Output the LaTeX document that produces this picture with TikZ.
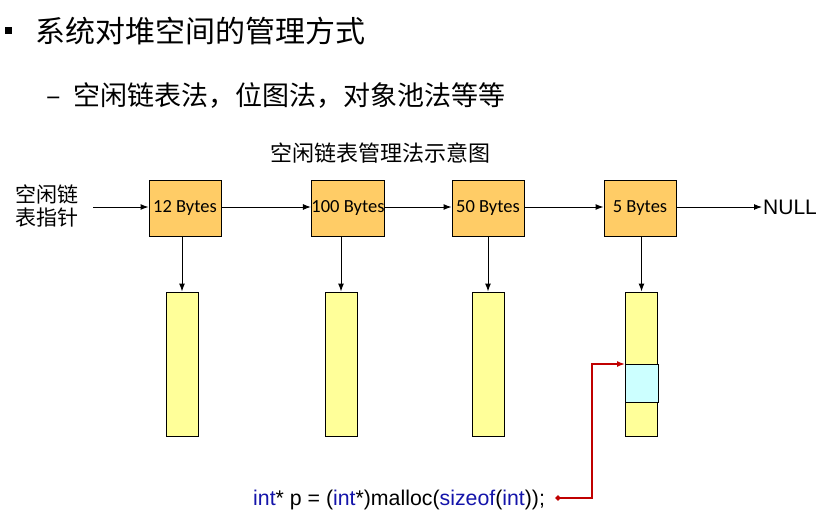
\documentclass[tikz,border=0pt]{standalone}
\usepackage{fontspec}
\setmainfont{Liberation Sans}
\newfontfamily\cjk{Noto Sans CJK SC}
\newfontfamily\calfont{Carlito}
\usetikzlibrary{arrows.meta,shapes.geometric}
\definecolor{boxgold}{RGB}{255,204,102}
\definecolor{colyellow}{RGB}{255,255,153}
\definecolor{cellcyan}{RGB}{204,255,255}
\definecolor{darkred}{RGB}{192,0,0}
\definecolor{codeblue}{RGB}{20,20,170}
\begin{document}
\begin{tikzpicture}[x=1pt,y=-1pt,
  blockbox/.style={draw=black,line width=1pt,fill=boxgold,minimum width=72pt,minimum height=56pt,inner sep=0pt,font=\calfont\fontsize{18.5}{22}\selectfont},
  column/.style={draw=black,line width=1pt,fill=colyellow,minimum width=32pt,minimum height=144pt,inner sep=0pt},
  arr/.style={line width=1pt,-{Latex[length=8pt,width=6pt]}},
  redarr/.style={line width=1.5pt,draw=darkred,-{Latex[length=8pt,width=6pt]}}]
\useasboundingbox (0,0) rectangle (832,511);
\fill[white] (0,0) rectangle (832,511);
% headings
\node[fill=black,minimum size=7pt,inner sep=0pt] (bullet) at (8.5,30.5) {};
\node[anchor=west,inner sep=0pt,font=\cjk\fontsize{30}{36}\selectfont] (h1) at (35,31) {系统对堆空间的管理方式};
\node[anchor=west,inner sep=0pt,font=\cjk\fontsize{27}{32}\selectfont] (dash) at (46,101) {–};
\node[anchor=west,inner sep=0pt,font=\cjk\fontsize{27}{32}\selectfont] (h2) at (73,96) {空闲链表法，位图法，对象池法等等};
\node[inner sep=0pt,font=\cjk\fontsize{22}{26}\selectfont] (title) at (380,153) {空闲链表管理法示意图};
% left label
\node[align=center,inner sep=0pt,font=\cjk\fontsize{21}{23}\selectfont] (lbl) at (46.5,206) {空闲链\\表指针};
\coordinate (start) at (93,207);
% blocks
\node[blockbox] (b1) at (185,208) {12 Bytes};
\node[blockbox] (b2) at (348,208) {100 Bytes};
\node[blockbox] (b3) at (488,208) {50 Bytes};
\node[blockbox] (b4) at (640,208) {5 Bytes};
\node[anchor=west,inner sep=1pt,font=\fontsize{21}{24}\selectfont] (null) at (762,207) {NULL};
% columns
\node[column] (c1) at (182,364) {};
\node[column] (c2) at (341,364) {};
\node[column] (c3) at (488,364) {};
\node[column] (c4) at (641.5,364) {};
\draw[line width=1pt,fill=cellcyan] (c4.west |- 0,364) rectangle (c4.east |- 0,402);
\coordinate (cell) at (c4.west |- 0,364);
% horizontal arrows
\draw[arr] (start) -- (start -| b1.west);
\draw[arr] (b1.east |- 0,207) -- (b2.west |- 0,207);
\draw[arr] (b2.east |- 0,207) -- (b3.west |- 0,207);
\draw[arr] (b3.east |- 0,207) -- (b4.west |- 0,207);
\draw[arr] (b4.east |- 0,207) -- (null.west |- 0,207);
% vertical arrows
\draw[arr] (c1.north |- b1.south) -- (c1.north);
\draw[arr] (c2.north |- b2.south) -- (c2.north);
\draw[arr] (c3.north |- b3.south) -- (c3.north);
\draw[arr] (c4.north |- b4.south) -- (c4.north);
% code
\node[anchor=base west,inner sep=0pt,font=\fontsize{21.3}{24}\selectfont] (code) at (253,505) {\textcolor{codeblue}{int}* p = (\textcolor{codeblue}{int}*)malloc(\textcolor{codeblue}{sizeof}(\textcolor{codeblue}{int}));};
\node[diamond,fill=darkred,minimum size=6pt,inner sep=0pt] (dot) at (558,498) {};
\draw[redarr] (dot.center) -- (592,498) -- (592,364) -- (cell);
\end{tikzpicture}
\end{document}
